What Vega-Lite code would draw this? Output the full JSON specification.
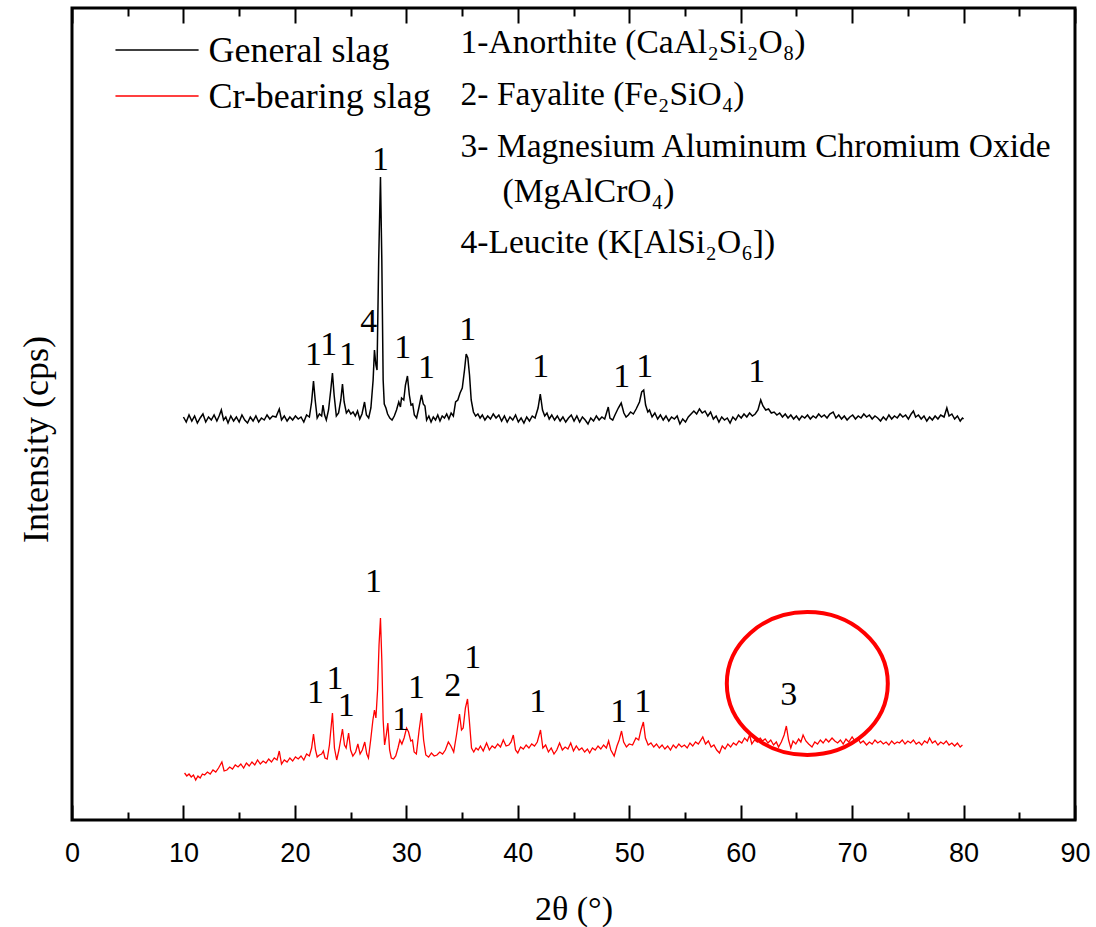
{
"$schema": "https://vega.github.io/schema/vega-lite/v6.json",
"width": 1003, "height": 812,
"autosize": {"type": "none"},
"padding": {"left": 72, "top": 8, "right": 21, "bottom": 107},
"config": {"view": {"stroke": "#000000", "strokeWidth": 3}, "font": "Liberation Serif"},
"datasets": {
"general": [{"t":10.0,"i":403},{"t":10.25,"i":398},{"t":10.5,"i":405},{"t":10.75,"i":399},{"t":11.0,"i":404},{"t":11.25,"i":397},{"t":11.5,"i":402},{"t":11.75,"i":406},{"t":12.0,"i":398},{"t":12.25,"i":403},{"t":12.5,"i":400},{"t":12.75,"i":405},{"t":13.0,"i":399},{"t":13.2,"i":404},{"t":13.4,"i":410},{"t":13.6,"i":400},{"t":13.8,"i":403},{"t":14.0,"i":397},{"t":14.25,"i":404},{"t":14.5,"i":399},{"t":14.75,"i":403},{"t":15.0,"i":398},{"t":15.25,"i":405},{"t":15.5,"i":400},{"t":15.75,"i":397},{"t":16.0,"i":403},{"t":16.25,"i":399},{"t":16.5,"i":404},{"t":16.75,"i":398},{"t":17.0,"i":402},{"t":17.25,"i":400},{"t":17.5,"i":405},{"t":17.75,"i":401},{"t":18.0,"i":404},{"t":18.3,"i":403},{"t":18.6,"i":411},{"t":18.8,"i":400},{"t":19.05,"i":404},{"t":19.3,"i":399},{"t":19.55,"i":403},{"t":19.8,"i":400},{"t":20.05,"i":404},{"t":20.3,"i":401},{"t":20.55,"i":403},{"t":20.8,"i":398},{"t":21.05,"i":405},{"t":21.3,"i":403},{"t":21.5,"i":418},{"t":21.67,"i":439},{"t":21.82,"i":420},{"t":22.0,"i":402},{"t":22.2,"i":406},{"t":22.4,"i":404},{"t":22.52,"i":415},{"t":22.67,"i":405},{"t":22.82,"i":400},{"t":23.02,"i":410},{"t":23.22,"i":430},{"t":23.37,"i":447},{"t":23.52,"i":425},{"t":23.72,"i":404},{"t":23.92,"i":407},{"t":24.12,"i":420},{"t":24.27,"i":436},{"t":24.42,"i":418},{"t":24.62,"i":407},{"t":24.82,"i":410},{"t":25.02,"i":406},{"t":25.22,"i":408},{"t":25.42,"i":404},{"t":25.62,"i":409},{"t":25.82,"i":401},{"t":26.02,"i":406},{"t":26.25,"i":418},{"t":26.42,"i":405},{"t":26.62,"i":402},{"t":26.82,"i":412},{"t":27.02,"i":440},{"t":27.14,"i":470},{"t":27.27,"i":455},{"t":27.37,"i":450},{"t":27.52,"i":560},{"t":27.68,"i":643},{"t":27.8,"i":560},{"t":27.92,"i":440},{"t":28.02,"i":416},{"t":28.17,"i":412},{"t":28.32,"i":406},{"t":28.52,"i":402},{"t":28.72,"i":400},{"t":28.92,"i":404},{"t":29.12,"i":410},{"t":29.32,"i":418},{"t":29.47,"i":413},{"t":29.57,"i":422},{"t":29.77,"i":420},{"t":29.92,"i":435},{"t":30.1,"i":444},{"t":30.27,"i":425},{"t":30.42,"i":415},{"t":30.57,"i":416},{"t":30.72,"i":405},{"t":30.92,"i":402},{"t":31.12,"i":412},{"t":31.36,"i":425},{"t":31.52,"i":416},{"t":31.67,"i":414},{"t":31.82,"i":400},{"t":32.02,"i":404},{"t":32.22,"i":398},{"t":32.42,"i":403},{"t":32.62,"i":400},{"t":32.82,"i":405},{"t":33.02,"i":399},{"t":33.22,"i":404},{"t":33.42,"i":402},{"t":33.62,"i":406},{"t":33.82,"i":401},{"t":34.02,"i":407},{"t":34.22,"i":404},{"t":34.42,"i":418},{"t":34.62,"i":420},{"t":34.82,"i":427},{"t":35.02,"i":432},{"t":35.22,"i":450},{"t":35.37,"i":466},{"t":35.52,"i":462},{"t":35.67,"i":445},{"t":35.82,"i":420},{"t":36.02,"i":408},{"t":36.22,"i":404},{"t":36.42,"i":406},{"t":36.62,"i":402},{"t":36.82,"i":405},{"t":37.05,"i":400},{"t":37.3,"i":404},{"t":37.55,"i":401},{"t":37.8,"i":406},{"t":38.05,"i":402},{"t":38.3,"i":405},{"t":38.55,"i":399},{"t":38.8,"i":404},{"t":39.05,"i":398},{"t":39.3,"i":403},{"t":39.55,"i":400},{"t":39.8,"i":405},{"t":40.05,"i":398},{"t":40.3,"i":402},{"t":40.55,"i":397},{"t":40.8,"i":403},{"t":41.05,"i":399},{"t":41.3,"i":404},{"t":41.55,"i":402},{"t":41.82,"i":412},{"t":42.02,"i":426},{"t":42.22,"i":410},{"t":42.42,"i":404},{"t":42.62,"i":407},{"t":42.82,"i":401},{"t":43.05,"i":405},{"t":43.3,"i":400},{"t":43.55,"i":404},{"t":43.8,"i":399},{"t":44.05,"i":403},{"t":44.3,"i":398},{"t":44.55,"i":402},{"t":44.8,"i":405},{"t":45.05,"i":399},{"t":45.3,"i":404},{"t":45.55,"i":398},{"t":45.8,"i":403},{"t":46.05,"i":400},{"t":46.3,"i":396},{"t":46.55,"i":402},{"t":46.8,"i":399},{"t":47.05,"i":404},{"t":47.3,"i":400},{"t":47.55,"i":403},{"t":47.8,"i":401},{"t":48.12,"i":413},{"t":48.27,"i":402},{"t":48.52,"i":400},{"t":48.72,"i":405},{"t":49.02,"i":412},{"t":49.28,"i":417},{"t":49.52,"i":407},{"t":49.72,"i":403},{"t":49.92,"i":405},{"t":50.12,"i":408},{"t":50.37,"i":406},{"t":50.62,"i":411},{"t":50.92,"i":418},{"t":51.12,"i":428},{"t":51.3,"i":430},{"t":51.47,"i":415},{"t":51.67,"i":408},{"t":51.82,"i":410},{"t":52.05,"i":403},{"t":52.3,"i":407},{"t":52.55,"i":401},{"t":52.8,"i":405},{"t":53.05,"i":400},{"t":53.3,"i":404},{"t":53.55,"i":399},{"t":53.8,"i":403},{"t":54.05,"i":401},{"t":54.3,"i":404},{"t":54.55,"i":396},{"t":54.8,"i":401},{"t":55.05,"i":398},{"t":55.3,"i":403},{"t":55.55,"i":406},{"t":55.8,"i":409},{"t":56.05,"i":406},{"t":56.3,"i":411},{"t":56.55,"i":407},{"t":56.8,"i":409},{"t":57.05,"i":404},{"t":57.3,"i":408},{"t":57.55,"i":401},{"t":57.8,"i":404},{"t":58.05,"i":398},{"t":58.3,"i":403},{"t":58.55,"i":400},{"t":58.8,"i":402},{"t":59.05,"i":397},{"t":59.3,"i":403},{"t":59.55,"i":400},{"t":59.8,"i":405},{"t":60.05,"i":402},{"t":60.3,"i":406},{"t":60.55,"i":403},{"t":60.8,"i":407},{"t":61.05,"i":404},{"t":61.3,"i":406},{"t":61.55,"i":410},{"t":61.8,"i":420},{"t":62.0,"i":414},{"t":62.25,"i":410},{"t":62.5,"i":411},{"t":62.75,"i":407},{"t":63.0,"i":408},{"t":63.25,"i":405},{"t":63.5,"i":407},{"t":63.75,"i":403},{"t":64.0,"i":406},{"t":64.25,"i":402},{"t":64.5,"i":405},{"t":64.75,"i":401},{"t":65.0,"i":404},{"t":65.25,"i":400},{"t":65.5,"i":404},{"t":65.75,"i":402},{"t":66.0,"i":405},{"t":66.25,"i":401},{"t":66.5,"i":404},{"t":66.75,"i":402},{"t":67.0,"i":406},{"t":67.25,"i":403},{"t":67.5,"i":405},{"t":67.75,"i":402},{"t":68.0,"i":406},{"t":68.3,"i":408},{"t":68.55,"i":402},{"t":68.8,"i":405},{"t":69.05,"i":401},{"t":69.3,"i":404},{"t":69.55,"i":400},{"t":69.8,"i":403},{"t":70.05,"i":405},{"t":70.3,"i":401},{"t":70.55,"i":404},{"t":70.8,"i":402},{"t":71.05,"i":406},{"t":71.3,"i":403},{"t":71.55,"i":405},{"t":71.8,"i":401},{"t":72.05,"i":404},{"t":72.3,"i":402},{"t":72.55,"i":399},{"t":72.8,"i":403},{"t":73.05,"i":400},{"t":73.3,"i":405},{"t":73.55,"i":401},{"t":73.8,"i":404},{"t":74.05,"i":402},{"t":74.3,"i":406},{"t":74.55,"i":403},{"t":74.8,"i":405},{"t":75.05,"i":401},{"t":75.3,"i":406},{"t":75.5,"i":409},{"t":75.7,"i":403},{"t":75.95,"i":405},{"t":76.2,"i":401},{"t":76.45,"i":404},{"t":76.7,"i":399},{"t":76.95,"i":403},{"t":77.2,"i":400},{"t":77.45,"i":404},{"t":77.7,"i":401},{"t":77.95,"i":405},{"t":78.25,"i":403},{"t":78.5,"i":412},{"t":78.7,"i":404},{"t":78.95,"i":406},{"t":79.2,"i":401},{"t":79.45,"i":404},{"t":79.7,"i":399},{"t":79.9,"i":402},{"t":80.0,"i":401}],
"crbearing": [{"t":10.1,"i":47},{"t":10.3,"i":44},{"t":10.5,"i":46},{"t":10.7,"i":43},{"t":10.9,"i":45},{"t":11.1,"i":40},{"t":11.3,"i":44},{"t":11.5,"i":42},{"t":11.7,"i":46},{"t":11.9,"i":45},{"t":12.15,"i":48},{"t":12.4,"i":46},{"t":12.65,"i":50},{"t":12.9,"i":48},{"t":13.15,"i":52},{"t":13.3,"i":55},{"t":13.45,"i":58},{"t":13.65,"i":49},{"t":13.9,"i":50},{"t":14.15,"i":53},{"t":14.4,"i":51},{"t":14.65,"i":55},{"t":14.9,"i":53},{"t":15.15,"i":56},{"t":15.4,"i":52},{"t":15.65,"i":57},{"t":15.9,"i":54},{"t":16.15,"i":58},{"t":16.4,"i":55},{"t":16.65,"i":60},{"t":16.9,"i":56},{"t":17.15,"i":59},{"t":17.4,"i":57},{"t":17.65,"i":61},{"t":17.9,"i":58},{"t":18.15,"i":62},{"t":18.4,"i":60},{"t":18.6,"i":69},{"t":18.8,"i":56},{"t":19.05,"i":60},{"t":19.3,"i":58},{"t":19.55,"i":62},{"t":19.8,"i":59},{"t":20.05,"i":63},{"t":20.3,"i":61},{"t":20.55,"i":64},{"t":20.8,"i":60},{"t":21.05,"i":66},{"t":21.3,"i":64},{"t":21.5,"i":72},{"t":21.67,"i":86},{"t":21.85,"i":70},{"t":22.0,"i":63},{"t":22.2,"i":65},{"t":22.4,"i":66},{"t":22.55,"i":69},{"t":22.7,"i":62},{"t":22.9,"i":61},{"t":23.1,"i":75},{"t":23.37,"i":107},{"t":23.55,"i":72},{"t":23.75,"i":60},{"t":23.95,"i":70},{"t":24.27,"i":91},{"t":24.45,"i":75},{"t":24.6,"i":72},{"t":24.82,"i":87},{"t":25.0,"i":70},{"t":25.2,"i":64},{"t":25.45,"i":68},{"t":25.65,"i":76},{"t":25.85,"i":66},{"t":26.05,"i":70},{"t":26.27,"i":78},{"t":26.45,"i":66},{"t":26.6,"i":62},{"t":26.8,"i":80},{"t":27.0,"i":100},{"t":27.14,"i":110},{"t":27.27,"i":102},{"t":27.42,"i":130},{"t":27.55,"i":175},{"t":27.68,"i":202},{"t":27.8,"i":160},{"t":27.92,"i":100},{"t":28.05,"i":75},{"t":28.2,"i":85},{"t":28.34,"i":97},{"t":28.5,"i":70},{"t":28.65,"i":62},{"t":28.85,"i":61},{"t":29.05,"i":64},{"t":29.25,"i":72},{"t":29.42,"i":80},{"t":29.6,"i":76},{"t":29.8,"i":82},{"t":30.02,"i":92},{"t":30.2,"i":88},{"t":30.4,"i":79},{"t":30.55,"i":80},{"t":30.7,"i":68},{"t":30.9,"i":66},{"t":31.15,"i":90},{"t":31.36,"i":107},{"t":31.55,"i":80},{"t":31.75,"i":65},{"t":32.0,"i":63},{"t":32.25,"i":67},{"t":32.5,"i":64},{"t":32.75,"i":65},{"t":33.0,"i":68},{"t":33.25,"i":66},{"t":33.5,"i":70},{"t":33.77,"i":78},{"t":34.0,"i":74},{"t":34.25,"i":68},{"t":34.5,"i":85},{"t":34.77,"i":106},{"t":34.95,"i":90},{"t":35.1,"i":92},{"t":35.3,"i":112},{"t":35.49,"i":121},{"t":35.65,"i":100},{"t":35.85,"i":72},{"t":36.05,"i":68},{"t":36.25,"i":72},{"t":36.45,"i":70},{"t":36.65,"i":74},{"t":36.9,"i":69},{"t":37.2,"i":77},{"t":37.45,"i":70},{"t":37.7,"i":74},{"t":37.95,"i":72},{"t":38.2,"i":76},{"t":38.45,"i":73},{"t":38.7,"i":80},{"t":38.95,"i":74},{"t":39.2,"i":75},{"t":39.4,"i":78},{"t":39.6,"i":85},{"t":39.8,"i":70},{"t":40.0,"i":67},{"t":40.25,"i":73},{"t":40.5,"i":71},{"t":40.75,"i":75},{"t":41.0,"i":72},{"t":41.25,"i":76},{"t":41.5,"i":74},{"t":41.75,"i":78},{"t":42.04,"i":90},{"t":42.25,"i":72},{"t":42.5,"i":75},{"t":42.75,"i":68},{"t":43.0,"i":72},{"t":43.25,"i":66},{"t":43.5,"i":70},{"t":43.75,"i":77},{"t":44.0,"i":70},{"t":44.25,"i":73},{"t":44.5,"i":71},{"t":44.75,"i":77},{"t":45.0,"i":69},{"t":45.25,"i":74},{"t":45.5,"i":70},{"t":45.75,"i":72},{"t":46.0,"i":68},{"t":46.25,"i":71},{"t":46.45,"i":67},{"t":46.7,"i":72},{"t":46.95,"i":70},{"t":47.2,"i":74},{"t":47.45,"i":71},{"t":47.7,"i":75},{"t":47.95,"i":72},{"t":48.15,"i":79},{"t":48.35,"i":70},{"t":48.65,"i":64},{"t":48.9,"i":74},{"t":49.1,"i":80},{"t":49.31,"i":89},{"t":49.5,"i":78},{"t":49.75,"i":73},{"t":50.0,"i":76},{"t":50.3,"i":75},{"t":50.6,"i":82},{"t":50.85,"i":80},{"t":51.05,"i":90},{"t":51.27,"i":98},{"t":51.45,"i":82},{"t":51.7,"i":75},{"t":51.95,"i":77},{"t":52.2,"i":73},{"t":52.45,"i":76},{"t":52.7,"i":72},{"t":52.95,"i":75},{"t":53.2,"i":71},{"t":53.45,"i":74},{"t":53.7,"i":70},{"t":53.95,"i":75},{"t":54.2,"i":72},{"t":54.45,"i":76},{"t":54.7,"i":73},{"t":54.95,"i":75},{"t":55.2,"i":72},{"t":55.45,"i":77},{"t":55.7,"i":74},{"t":55.95,"i":78},{"t":56.2,"i":76},{"t":56.6,"i":83},{"t":56.85,"i":76},{"t":57.1,"i":79},{"t":57.35,"i":73},{"t":57.6,"i":75},{"t":57.85,"i":70},{"t":58.1,"i":67},{"t":58.35,"i":74},{"t":58.6,"i":71},{"t":58.85,"i":76},{"t":59.1,"i":73},{"t":59.35,"i":77},{"t":59.6,"i":75},{"t":59.85,"i":79},{"t":60.1,"i":77},{"t":60.35,"i":82},{"t":60.6,"i":79},{"t":60.8,"i":85},{"t":61.0,"i":76},{"t":61.25,"i":80},{"t":61.5,"i":78},{"t":61.75,"i":82},{"t":61.95,"i":79},{"t":62.2,"i":81},{"t":62.45,"i":77},{"t":62.7,"i":80},{"t":62.95,"i":75},{"t":63.2,"i":78},{"t":63.4,"i":73},{"t":63.65,"i":78},{"t":63.9,"i":85},{"t":64.1,"i":94},{"t":64.3,"i":80},{"t":64.5,"i":72},{"t":64.7,"i":79},{"t":64.95,"i":76},{"t":65.2,"i":81},{"t":65.4,"i":78},{"t":65.6,"i":85},{"t":65.85,"i":79},{"t":66.1,"i":76},{"t":66.4,"i":73},{"t":66.65,"i":78},{"t":66.9,"i":76},{"t":67.15,"i":80},{"t":67.4,"i":77},{"t":67.65,"i":81},{"t":67.9,"i":78},{"t":68.2,"i":82},{"t":68.45,"i":79},{"t":68.7,"i":77},{"t":68.95,"i":80},{"t":69.2,"i":76},{"t":69.45,"i":81},{"t":69.7,"i":78},{"t":70.0,"i":83},{"t":70.25,"i":79},{"t":70.5,"i":82},{"t":70.75,"i":77},{"t":71.0,"i":79},{"t":71.3,"i":75},{"t":71.55,"i":78},{"t":71.8,"i":76},{"t":72.05,"i":80},{"t":72.3,"i":77},{"t":72.55,"i":79},{"t":72.8,"i":76},{"t":73.05,"i":78},{"t":73.3,"i":75},{"t":73.55,"i":79},{"t":73.8,"i":76},{"t":74.05,"i":78},{"t":74.25,"i":77},{"t":74.5,"i":80},{"t":74.75,"i":76},{"t":75.0,"i":79},{"t":75.25,"i":77},{"t":75.5,"i":80},{"t":75.75,"i":76},{"t":76.0,"i":78},{"t":76.25,"i":75},{"t":76.5,"i":79},{"t":76.75,"i":77},{"t":76.95,"i":82},{"t":77.2,"i":77},{"t":77.45,"i":79},{"t":77.7,"i":75},{"t":77.95,"i":78},{"t":78.2,"i":76},{"t":78.45,"i":79},{"t":78.7,"i":75},{"t":78.95,"i":77},{"t":79.2,"i":74},{"t":79.45,"i":77},{"t":79.7,"i":73},{"t":79.9,"i":75}],
"peaks": [{"t":27.69,"i":660,"s":"1"},{"t":21.68,"i":465,"s":"1"},{"t":23.03,"i":475,"s":"1"},{"t":24.73,"i":465,"s":"1"},{"t":26.62,"i":498,"s":"4"},{"t":29.67,"i":472,"s":"1"},{"t":31.82,"i":452,"s":"1"},{"t":35.5,"i":490,"s":"1"},{"t":42.06,"i":453,"s":"1"},{"t":49.33,"i":443,"s":"1"},{"t":51.39,"i":453,"s":"1"},{"t":61.45,"i":448,"s":"1"},{"t":27.06,"i":238,"s":"1"},{"t":21.86,"i":127,"s":"1"},{"t":23.6,"i":141,"s":"1"},{"t":24.6,"i":114,"s":"1"},{"t":29.49,"i":100,"s":"1"},{"t":30.92,"i":132,"s":"1"},{"t":34.16,"i":134,"s":"2"},{"t":35.95,"i":162,"s":"1"},{"t":41.79,"i":118,"s":"1"},{"t":49.06,"i":108,"s":"1"},{"t":51.21,"i":118,"s":"1"},{"t":64.32,"i":125,"s":"3"}],
"highlight": [{"t":65.98,"i":136.5}],
"legend": [{"t":3.9,"t2":11.36,"i":770,"ti":758,"s":"General slag"},{"t":3.9,"t2":11.36,"i":724,"ti":712,"s":"Cr-bearing slag"}],
"phases": [{"t":34.87,"i":767,"s":"1-Anorthite (CaAl₂Si₂O₈)"},{"t":34.87,"i":715,"s":"2- Fayalite (Fe₂SiO₄)"},{"t":34.87,"i":663,"s":"3- Magnesium Aluminum Chromium Oxide"},{"t":38.64,"i":618,"s":"(MgAlCrO₄)"},{"t":34.87,"i":567,"s":"4-Leucite (K[AlSi₂O₆])"}]
},
"layer": [
{"data": {"name": "general"},
 "mark": {"type": "line", "color": "#000000", "strokeWidth": 1.5},
 "encoding": {
  "x": {"field": "t", "type": "quantitative", "scale": {"domain": [0, 90], "nice": false, "zero": false},
   "axis": {"orient": "bottom", "values": [0,10,20,30,40,50,60,70,80,90],
    "tickSize": -15, "tickWidth": 2, "tickColor": "#000000", "domain": false, "grid": false,
    "labelFont": "Liberation Sans", "labelFontSize": 27, "labelColor": "#000000", "labelPadding": 35,
    "labelOverlap": false, "labelFlush": false,
    "title": "2θ (°)", "titleFont": "Liberation Serif", "titleFontSize": 34, "titleFontWeight": "normal",
    "titleColor": "#000000", "titleBaseline": "alphabetic", "titleY": 99}},
  "y": {"field": "i", "type": "quantitative", "scale": {"domain": [0, 812], "nice": false, "zero": false},
   "axis": {"ticks": false, "labels": false, "domain": false, "grid": false,
    "title": "Intensity (cps)", "titleFont": "Liberation Serif", "titleFontSize": 36, "titleFontWeight": "normal",
    "titleColor": "#000000", "titleBaseline": "alphabetic", "titleAngle": -90, "titleX": -25, "titleY": 431}}
 }},
{"data": {"name": "crbearing"},
 "mark": {"type": "line", "color": "#ff0000", "strokeWidth": 1.3},
 "encoding": {
  "x": {"field": "t", "type": "quantitative", "scale": {"domain": [0, 90], "nice": false, "zero": false},
   "axis": {"orient": "top", "values": [0,10,20,30,40,50,60,70,80,90],
    "labels": false, "domain": false, "grid": false, "title": null,
    "tickSize": -15, "tickWidth": 2, "tickColor": "#000000"}},
  "y": {"field": "i", "type": "quantitative", "scale": {"domain": [0, 812], "nice": false, "zero": false}, "axis": null}
 }},
{"data": {"name": "peaks"},
 "mark": {"type": "text", "font": "Liberation Serif", "fontSize": 34, "color": "#000000", "align": "center", "baseline": "middle"},
 "encoding": {
  "x": {"field": "t", "type": "quantitative",
   "axis": {"orient": "bottom", "values": [5,15,25,35,45,55,65,75,85], "labels": false, "domain": false, "grid": false, "title": null,
    "tickSize": -8, "tickWidth": 2, "tickColor": "#000000"}},
  "y": {"field": "i", "type": "quantitative", "axis": null},
  "text": {"field": "s", "type": "nominal"}
 }},
{"data": {"name": "highlight"},
 "mark": {"type": "point", "shape": "M1,0C1,0.492,0.552,0.888,0,0.888C-0.552,0.888,-1,0.492,-1,0C-1,-0.492,-0.552,-0.888,0,-0.888C0.552,-0.888,1,-0.492,1,0Z", "size": 25921, "filled": false, "stroke": "#ff0000", "strokeWidth": 4, "opacity": 1},
 "encoding": {
  "x": {"field": "t", "type": "quantitative",
   "axis": {"orient": "top", "values": [5,15,25,35,45,55,65,75,85], "labels": false, "domain": false, "grid": false, "title": null,
    "tickSize": -8, "tickWidth": 2, "tickColor": "#000000"}},
  "y": {"field": "i", "type": "quantitative", "axis": null}
 }},
{"data": {"name": "legend"},
 "mark": {"type": "rule", "strokeWidth": 1.5},
 "encoding": {
  "x": {"field": "t", "type": "quantitative", "axis": null},
  "x2": {"field": "t2"},
  "y": {"field": "i", "type": "quantitative", "axis": null},
  "color": {"field": "s", "type": "nominal", "scale": {"domain": ["General slag", "Cr-bearing slag"], "range": ["#000000", "#ff0000"]}, "legend": null}
 }},
{"data": {"name": "legend"},
 "mark": {"type": "text", "font": "Liberation Serif", "fontSize": 36, "color": "#000000", "align": "left", "baseline": "alphabetic", "dx": 10},
 "encoding": {
  "x": {"field": "t2", "type": "quantitative", "axis": null},
  "y": {"field": "ti", "type": "quantitative", "axis": null},
  "text": {"field": "s", "type": "nominal"}
 }},
{"data": {"name": "phases"},
 "mark": {"type": "text", "font": "Liberation Serif", "fontSize": 33.5, "color": "#000000", "align": "left", "baseline": "alphabetic"},
 "encoding": {
  "x": {"field": "t", "type": "quantitative", "axis": null},
  "y": {"field": "i", "type": "quantitative", "axis": null},
  "text": {"field": "s", "type": "nominal"}
 }}
],
"resolve": {"axis": {"x": "independent", "y": "independent"}}
}
